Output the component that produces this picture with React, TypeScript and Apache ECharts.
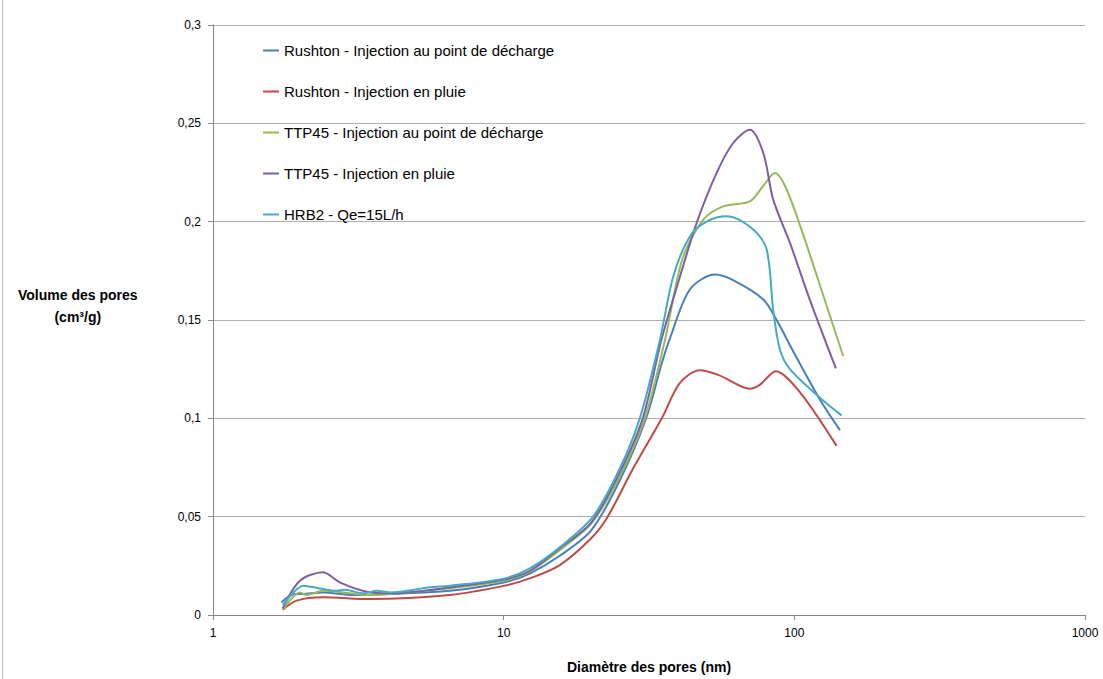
import React, { useEffect, useRef } from 'react';
import * as echarts from 'echarts';

const seriesNames = [
  'Rushton - Injection au point de décharge',
  'Rushton - Injection en pluie',
  'TTP45 - Injection au point de décharge',
  'TTP45 - Injection en pluie',
  'HRB2 - Qe=15L/h',
];

const seriesColors = ['#4A7EBB', '#BE4B48', '#98B954', '#7D60A0', '#46AAC5'];

const rushtonDecharge: [number, number][] = [
  [1.72, 0.0064], [1.89, 0.0105], [2.05, 0.0107], [2.39, 0.0115], [3.04, 0.0102],
  [4.06, 0.0107], [6.53, 0.0123], [10, 0.0165], [12.3, 0.0211], [15.6, 0.0301],
  [20, 0.043], [25, 0.068], [30.9, 0.1], [35, 0.128], [37.2, 0.14], [43.7, 0.1655],
  [53.3, 0.1731], [62, 0.17], [78.2, 0.1604], [86.9, 0.15], [100, 0.133],
  [122.4, 0.1096], [143.5, 0.094],
];

const rushtonPluie: [number, number][] = [
  [1.737, 0.0027], [1.94, 0.0073], [2.39, 0.009], [3.46, 0.0081], [6.53, 0.0102],
  [10, 0.0148], [12.3, 0.0186], [15.6, 0.0254], [20, 0.039], [22.8, 0.05],
  [28, 0.075], [35, 0.1], [40.4, 0.118], [47.3, 0.1245], [55, 0.122],
  [70.3, 0.115], [76, 0.117], [86.4, 0.124], [104.9, 0.113], [139.8, 0.086],
];

const ttpDecharge: [number, number][] = [
  [1.745, 0.003], [1.99, 0.0115], [2.1, 0.0102], [2.39, 0.0123], [2.81, 0.0115],
  [3.46, 0.0102], [6.53, 0.0136], [10, 0.0175], [12.3, 0.022], [15.6, 0.033],
  [20, 0.0465], [25, 0.07], [30.6, 0.1], [35.9, 0.14], [41.2, 0.181], [48.6, 0.201],
  [56.9, 0.2078], [70.3, 0.2103], [78, 0.218], [85.8, 0.2247], [93, 0.218],
  [104.9, 0.1976], [132.7, 0.152], [147.3, 0.1316],
];

const ttpPluie: [number, number][] = [
  [1.737, 0.0034], [1.99, 0.0174], [2.39, 0.0217], [2.73, 0.0166], [3.38, 0.0118],
  [4.06, 0.011], [6.53, 0.014], [10, 0.018], [12.3, 0.0225], [15.6, 0.034],
  [20, 0.047], [25, 0.072], [30.1, 0.1], [34.9, 0.14], [40.4, 0.172], [46.1, 0.1993],
  [54, 0.2247], [61.6, 0.24], [70.3, 0.2467], [78.2, 0.2349], [84.6, 0.2112],
  [96.6, 0.1892], [113, 0.1604], [139, 0.1254],
];

const hrb2: [number, number][] = [
  [1.74, 0.005], [2.05, 0.0149], [2.33, 0.0135], [2.66, 0.0123], [2.84, 0.0128],
  [3.29, 0.011], [3.66, 0.0123], [4.06, 0.0115], [5.58, 0.0141], [6.53, 0.0149],
  [10, 0.0185], [12.3, 0.0237], [15.6, 0.0344], [20.3, 0.05], [25, 0.074],
  [29.4, 0.1], [34.5, 0.14], [38.3, 0.172], [43.7, 0.1925], [49.9, 0.2],
  [58.5, 0.2027], [72.2, 0.196], [80.3, 0.186], [84.6, 0.155], [89.2, 0.135],
  [96.6, 0.125], [122.4, 0.1105], [145.4, 0.1015],
];

const allData = [rushtonDecharge, rushtonPluie, ttpDecharge, ttpPluie, hrb2];

const xAxisTitle = 'Diamètre des pores (nm)';
const yAxisTitle = 'Volume des pores\n(cm³/g)';

export default function App() {
  const ref = useRef<HTMLDivElement>(null);
  useEffect(() => {
    document.body.style.margin = '0';
    const chart = echarts.init(ref.current!, null, { renderer: 'svg' });
    const font = 'Liberation Sans, Arial, sans-serif';
    chart.setOption({
      animation: false,
      backgroundColor: '#ffffff',
      textStyle: { fontFamily: font },
      grid: { left: 213, right: 18, top: 25, bottom: 63, containLabel: false },
      legend: {
        orient: 'vertical',
        left: 258,
        top: 38,
        itemGap: 26,
        itemWidth: 16,
        itemHeight: 2,
        icon: 'rect',
        data: seriesNames,
        textStyle: { fontFamily: font, fontSize: 15, color: '#000' },
      },
      xAxis: {
        type: 'log',
        logBase: 10,
        min: 1,
        max: 1000,
        name: xAxisTitle,
        nameLocation: 'middle',
        nameGap: 45,
        nameTextStyle: { fontFamily: font, fontSize: 14, fontWeight: 'bold', color: '#000' },
        axisLine: { lineStyle: { color: '#868686', width: 1 } },
        axisTick: { show: true, length: 5, lineStyle: { color: '#868686' } },
        axisLabel: {
          fontFamily: font,
          fontSize: 12,
          color: '#000',
          margin: 12,
          formatter: (v: number) => String(Math.round(v)),
        },
        splitLine: { show: false },
        minorTick: { show: false },
      },
      yAxis: {
        type: 'value',
        min: 0,
        max: 0.3,
        interval: 0.05,
        axisLine: { show: true, lineStyle: { color: '#868686', width: 1 } },
        axisTick: { show: true, length: 5, lineStyle: { color: '#868686' } },
        axisLabel: {
          fontFamily: font,
          fontSize: 12,
          color: '#000',
          margin: 12,
          formatter: (v: number) => String(Math.round(v * 100) / 100).replace('.', ','),
        },
        splitLine: { show: true, lineStyle: { color: '#B0B0B0', width: 1 } },
      },
      graphic: [
        {
          type: 'text',
          left: 78 - 60,
          top: 284,
          style: {
            text: yAxisTitle,
            x: 60,
            textAlign: 'center',
            font: `bold 14px ${font}`,
            lineHeight: 22,
            fill: '#000',
          },
        },
        {
          type: 'line',
          shape: { x1: 2.5, y1: 0, x2: 2.5, y2: 679 },
          style: { stroke: '#BFBFBF', lineWidth: 1 },
        },
      ],
      series: allData.map((d, i) => ({
        name: seriesNames[i],
        type: 'line',
        data: d,
        symbol: 'none',
        showSymbol: false,
        smooth: 0.3,
        color: seriesColors[i],
        lineStyle: { color: seriesColors[i], width: 2 },
      })),
    });
    return () => chart.dispose();
  }, []);
  return <div ref={ref} style={{ width: 1103, height: 679 }} />;
}
